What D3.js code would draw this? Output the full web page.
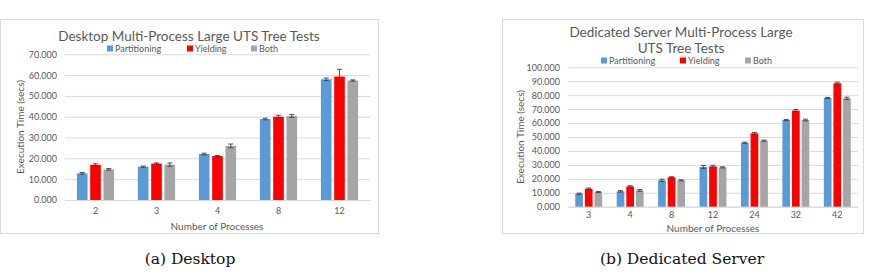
<!DOCTYPE html>
<html>
<head>
<meta charset="utf-8">
<script src="https://cdn.jsdelivr.net/npm/d3@7"></script>
<style>
  body { margin: 0; background: #fff; }
  text { font-family: Lato, "Open Sans", sans-serif; fill: #595959; }
  .caption { font-family: "DejaVu Serif", "Liberation Serif", serif; fill: #111; }
</style>
</head>
<body>
<svg id="fig" width="872" height="278"></svg>
<script>
// series names + colours
var seriesNames = ['Partitioning', 'Yielding', 'Both'];
var seriesColors = ['#5b9bd5', '#ff0000', '#a5a5a5'];

// (a) desktop
var deskCats = ['2', '3', '4', '8', '12'];
var deskPart = [12.8, 16.0, 22.1, 38.9, 58.0];
var deskYield = [16.9, 17.5, 21.1, 40.0, 59.3];
var deskBoth = [14.7, 17.0, 26.0, 40.4, 57.4];
var deskPartErr = [0.4, 0.3, 0.4, 0.4, 0.6];
var deskYieldErr = [0.5, 0.3, 0.3, 0.7, 3.5];
var deskBothErr = [0.4, 0.8, 0.9, 0.7, 0.3];
var deskTicks = [0, 10, 20, 30, 40, 50, 60, 70];

// (b) dedicated server
var servCats = ['3', '4', '8', '12', '24', '32', '42'];
var servPart = [9.3, 11.0, 18.9, 28.5, 45.9, 62.2, 78.0];
var servYield = [12.9, 14.5, 21.1, 28.9, 52.6, 68.9, 88.5];
var servBoth = [10.5, 11.7, 18.9, 28.2, 47.4, 62.2, 77.8];
var servPartErr = [0.4, 0.5, 0.8, 1.0, 0.4, 0.4, 0.4];
var servYieldErr = [0.5, 0.5, 0.4, 0.8, 0.7, 0.8, 0.8];
var servBothErr = [0.4, 0.6, 0.4, 0.4, 0.4, 0.6, 0.8];
var servTicks = [0, 10, 20, 30, 40, 50, 60, 70, 80, 90, 100];

var svg = d3.select('#fig');

function drawChart(opt) {
    var g = svg.append('g');

    // outer frame
    g.append('rect')
        .attr('x', opt.frame[0] + 0.5).attr('y', opt.frame[1] + 0.5)
        .attr('width', opt.frame[2]).attr('height', opt.frame[3])
        .attr('fill', '#fff').attr('stroke', '#d9d9d9');

    var x = d3.scaleBand().domain(opt.cats).range([opt.left, opt.right]).paddingInner(opt.pad).paddingOuter(opt.pad / 2);
    var xs = d3.scaleBand().domain(seriesNames).range([0, x.bandwidth()]).paddingInner(0.2);
    var y = d3.scaleLinear().domain([0, d3.max(opt.ticks)]).range([opt.bottom, opt.top]);

    // gridlines + labels
    var yAxis = d3.axisLeft(y).tickValues(opt.ticks).tickSize(-(opt.right - opt.left)).tickPadding(8)
        .tickFormat(d3.format('.3f'));
    var ya = g.append('g').attr('transform', 'translate(' + opt.left + ',0)').call(yAxis);
    ya.select('.domain').remove();
    ya.selectAll('line').attr('stroke', '#d9d9d9');
    ya.selectAll('text').style('font-size', '9px').attr('fill', '#595959');

    var xAxis = d3.axisBottom(x).tickSize(0).tickPadding(opt.xPad);
    var xa = g.append('g').attr('transform', 'translate(0,' + opt.bottom + ')').call(xAxis);
    xa.select('.domain').attr('stroke', '#d9d9d9');
    xa.selectAll('text').style('font-size', '9px').attr('fill', '#595959');

    var rows = opt.cats.map(function(c, i) {
        return opt.vals.map(function(v, s) {
            return { cat: c, name: seriesNames[s], v: v[i], e: opt.errs[s][i], color: seriesColors[s] };
        });
    });

    var grp = g.selectAll('g.grp').data(rows).enter().append('g')
        .attr('transform', function(d, i) { return 'translate(' + x(opt.cats[i]) + ',0)'; });

    grp.selectAll('rect').data(function(d) { return d; }).enter().append('rect')
        .attr('x', function(d) { return xs(d.name); })
        .attr('y', function(d) { return y(d.v); })
        .attr('width', xs.bandwidth())
        .attr('height', function(d) { return y(0) - y(d.v); })
        .attr('fill', function(d) { return d.color; });

    // error bars
    var eb = grp.selectAll('g.err').data(function(d) { return d; }).enter().append('g')
        .attr('stroke', '#404040').attr('stroke-width', 0.9);
    eb.append('line')
        .attr('x1', function(d) { return xs(d.name) + xs.bandwidth() / 2; })
        .attr('x2', function(d) { return xs(d.name) + xs.bandwidth() / 2; })
        .attr('y1', function(d) { return y(d.v - d.e); })
        .attr('y2', function(d) { return y(d.v + d.e); });
    eb.selectAll('line.cap').data(function(d) { return [[d, d.v - d.e], [d, d.v + d.e]]; }).enter().append('line')
        .attr('x1', function(d) { return xs(d[0].name) + xs.bandwidth() / 2 - 2.5; })
        .attr('x2', function(d) { return xs(d[0].name) + xs.bandwidth() / 2 + 2.5; })
        .attr('y1', function(d) { return y(d[1]); })
        .attr('y2', function(d) { return y(d[1]); });

    // title
    var t = g.append('text').attr('text-anchor', 'middle').style('font-size', '13.5px');
    opt.title.forEach(function(line, i) {
        t.append('tspan').attr('x', opt.titleX).attr('y', opt.titleY + i * 16.5).text(line);
    });

    // legend
    var lg = g.selectAll('g.lg').data(seriesNames).enter().append('g')
        .attr('transform', function(d, i) { return 'translate(' + opt.legendX[i] + ',' + opt.legendY + ')'; });
    lg.append('rect').attr('x', 0).attr('y', -6).attr('width', 6).attr('height', 6)
        .attr('fill', function(d, i) { return seriesColors[i]; });
    lg.append('text').attr('x', 8).attr('y', 0).style('font-size', '9px').text(function(d) { return d; });

    // axis titles
    g.append('text').attr('text-anchor', 'middle').attr('x', opt.xTitle[0]).attr('y', opt.xTitle[1])
        .style('font-size', '10px').text('Number of Processes');
    g.append('text').attr('text-anchor', 'middle')
        .attr('transform', 'translate(' + opt.yTitle[0] + ',' + opt.yTitle[1] + ') rotate(-90)')
        .style('font-size', '10px').text('Execution Time (secs)');

    // caption under the panel
    svg.append('text').attr('class', 'caption').attr('text-anchor', 'middle')
        .attr('x', opt.caption[0]).attr('y', opt.caption[1])
        .style('font-size', '15.5px').text(opt.caption[2]);
}

drawChart({
    frame: [0, 19, 378, 214],
    cats: deskCats, vals: [deskPart, deskYield, deskBoth], errs: [deskPartErr, deskYieldErr, deskBothErr],
    ticks: deskTicks, left: 65, right: 370, top: 54.3, bottom: 200, pad: 0.39, xPad: 8,
    title: ['Desktop Multi-Process Large UTS Tree Tests'], titleX: 189, titleY: 40.5,
    legendX: [107, 187, 251], legendY: 51.5,
    xTitle: [217, 230], yTitle: [24, 127],
    caption: [190, 264, '(a) Desktop']
});

drawChart({
    frame: [502, 19, 361, 214],
    cats: servCats, vals: [servPart, servYield, servBoth], errs: [servPartErr, servYieldErr, servBothErr],
    ticks: servTicks, left: 568, right: 858, top: 67.3, bottom: 206.7, pad: 0.35, xPad: 5,
    title: ['Dedicated Server Multi-Process Large', 'UTS Tree Tests'], titleX: 681, titleY: 36.5,
    legendX: [601, 680, 745], legendY: 63.5,
    xTitle: [713, 231.5], yTitle: [524, 137],
    caption: [682, 264, '(b) Dedicated Server']
});
</script>
</body>
</html>
